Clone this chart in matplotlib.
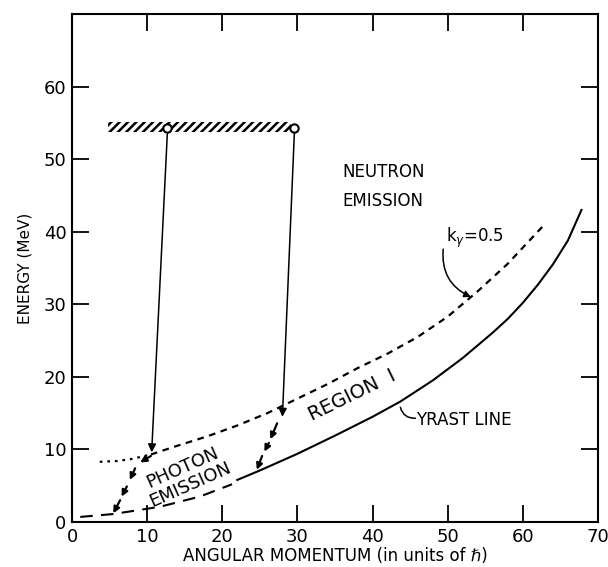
import matplotlib
matplotlib.use('Agg')
import matplotlib.pyplot as plt
from matplotlib.patches import Rectangle

# ---- data ----
x_ticks = [0, 10, 20, 30, 40, 50, 60, 70]
y_ticks = [0, 10, 20, 30, 40, 50, 60]

yrast_J = [22, 25, 30, 35, 40, 43.7, 48, 52, 56, 58, 60, 62, 64, 66, 67.8]
yrast_E = [5.8, 7.1, 9.4, 11.9, 14.5, 16.6, 19.5, 22.6, 26.1, 28.0, 30.2, 32.7, 35.5, 38.8, 43.0]

low_J = [1.1, 5.5, 11.7, 17, 21.3]
low_E = [0.7, 1.1, 2.1, 3.5, 5.2]

kdot_J = [3.7, 6, 8, 10.5]
kdot_E = [8.3, 8.4, 8.7, 9.3]
kdash_J = [10.5, 14, 18, 22, 26, 30, 34, 38, 42, 46, 50, 54, 58, 62.7]
kdash_E = [9.3, 10.5, 11.8, 13.3, 15.0, 17.0, 19.0, 21.2, 23.2, 25.5, 28.3, 31.8, 35.6, 40.8]

bar_J = [4.8, 29.1]
bar_E = [53.8, 55.1]
start_J = [12.7, 29.6]
start_E = [54.3, 54.3]
end_J = [10.6, 28.0]
end_E = [9.6, 14.5]

casc_left = [((10.5, 9.1), (9.07, 8.2)), ((8.4, 7.4), (7.7, 5.8)),
             ((7.3, 4.9), (6.6, 3.5)), ((6.4, 3.0), (5.5, 1.2))]
casc_right = [((27.3, 13.6), (26.4, 11.4)), ((26.2, 10.9), (25.6, 9.7)),
              ((25.3, 9.1), (24.6, 7.2))]

plt.rcParams['hatch.linewidth'] = 1.8

fig = plt.figure(figsize=(6.08, 5.67), dpi=100)
ax = fig.add_axes([72/608, 1-522/567, (598-72)/608, (522-14)/567])
ax.set_xlim(0, 70)
ax.set_ylim(0, 70)
for s in ax.spines.values():
    s.set_linewidth(1.5)

ax.set_xticks(x_ticks)
ax.set_yticks(y_ticks)
ax.tick_params(direction='in', length=12, width=1.3, top=True, right=True,
               labelsize=13, pad=4)
ax.set_xlabel('ANGULAR MOMENTUM (in units of ℏ)', fontsize=12, labelpad=1)
ax.set_ylabel('ENERGY (MeV)', fontsize=11, labelpad=8)

# curves
ax.plot(yrast_J, yrast_E, color='black', lw=1.5)
ax.plot(low_J, low_E, color='black', lw=1.5, dashes=(6, 4))
ax.plot(kdot_J, kdot_E, color='black', lw=1.6, dashes=(1.2, 2.2))
ax.plot(kdash_J, kdash_E, color='black', lw=1.6, dashes=(3, 2.5))

# hatched bar
ax.add_patch(Rectangle((bar_J[0], bar_E[0]), bar_J[1]-bar_J[0], bar_E[1]-bar_E[0],
                       hatch='////', fill=False, edgecolor='black', lw=0))
ax.plot(start_J, start_E, 'o', ms=6, mfc='white', mec='black', mew=1.5, zorder=5)

# long arrows
for sj, se, ej, ee in zip(start_J, start_E, end_J, end_E):
    ax.annotate('', xy=(ej, ee), xytext=(sj, se - 0.5),
                arrowprops=dict(arrowstyle='-|>', color='black', lw=1.1,
                                mutation_scale=12, shrinkA=0, shrinkB=0))

# cascades
for (a, b) in casc_left + casc_right:
    ax.annotate('', xy=b, xytext=a,
                arrowprops=dict(arrowstyle='-|>', color='black', lw=1.6,
                                mutation_scale=9, shrinkA=0, shrinkB=0))

# texts
ax.text(36, 47.5, 'NEUTRON', fontsize=12)
ax.text(36, 43.5, 'EMISSION', fontsize=12)
ax.text(49.8, 38.6, r'k$_\gamma$=0.5', fontsize=12)
ax.annotate('', xy=(53.1, 31.0), xytext=(49.4, 37.6),
            arrowprops=dict(arrowstyle='-|>', color='black', lw=1.1,
                            mutation_scale=10, shrinkA=0, shrinkB=0,
                            connectionstyle='arc3,rad=0.35'))
ax.text(32.0, 13.9, 'REGION  I', fontsize=14, rotation=26,
        ha='left', va='baseline', rotation_mode='anchor')
ax.text(45.8, 13.4, 'YRAST LINE', fontsize=12)
ax.annotate('', xy=(43.7, 15.8), xytext=(45.7, 14.3),
            arrowprops=dict(arrowstyle='-', color='black', lw=1.1,
                            shrinkA=0, shrinkB=0,
                            connectionstyle='arc3,rad=-0.4'))
ax.text(15.2, 6.3, 'PHOTON\nEMISSION', fontsize=13, rotation=24,
        ha='center', va='center', rotation_mode='anchor', linespacing=1.0)

fig.savefig('out.png', dpi=100)
